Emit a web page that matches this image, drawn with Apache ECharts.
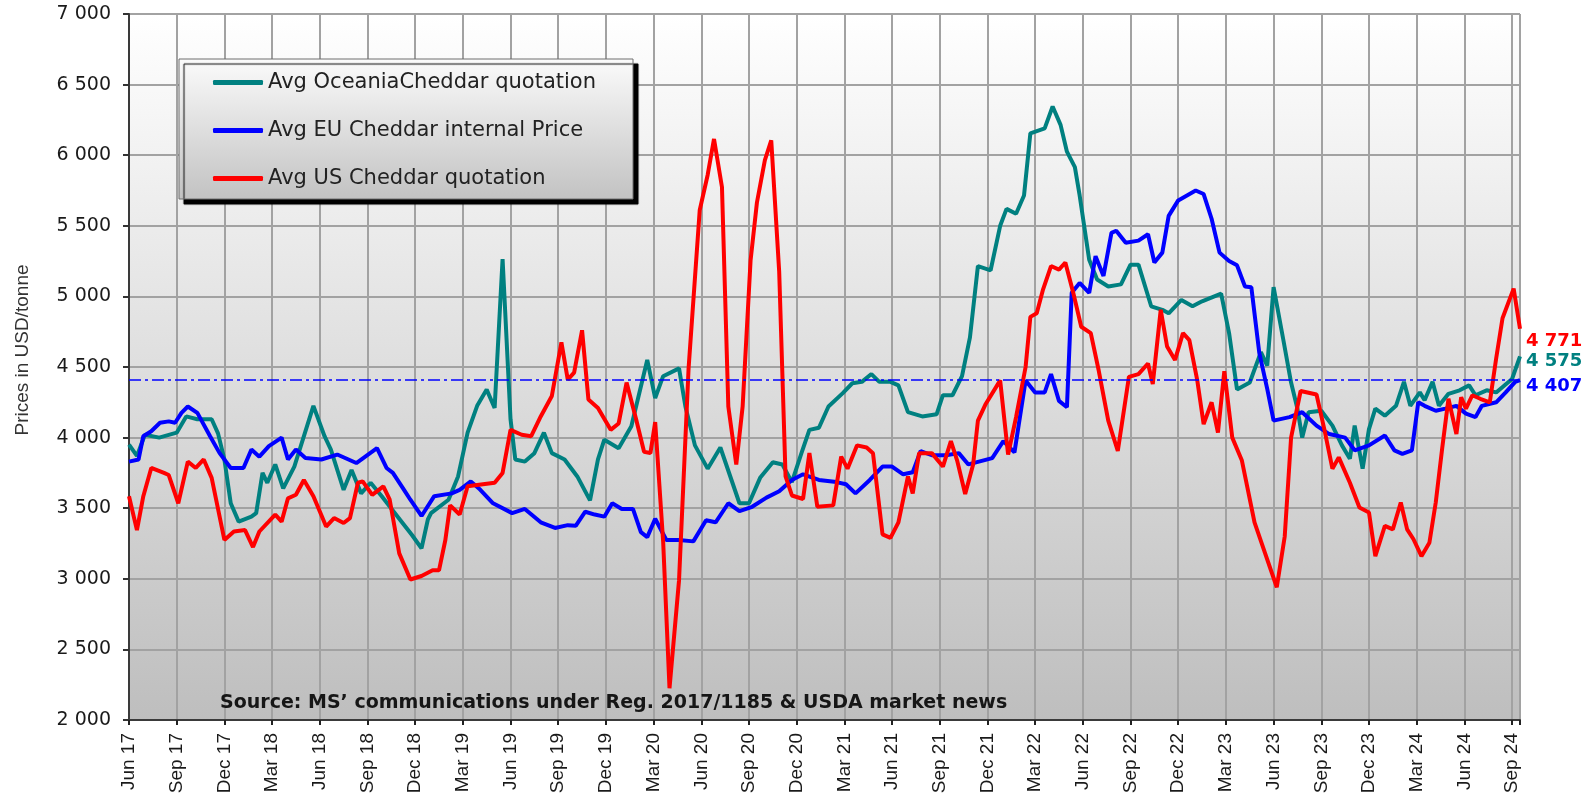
<!doctype html>
<html lang="en">
<head>
    <meta charset="utf-8" />
    <title>Cheddar prices</title>
    <script type="text/javascript" src="https://cdn.jsdelivr.net/npm/echarts@6.0.0/dist/echarts.min.js"></script>
    <style>
        html, body { margin: 0; padding: 0; background: #fff; }
        #chart { width: 1595px; height: 798px; }
    </style>
</head>
<body>
    <div id="chart"></div>
</body>
<script type="text/javascript">
    // x values are months counted from Jun 2017
    let quarter_labels = ['Jun 17', 'Sep 17', 'Dec 17', 'Mar 18', 'Jun 18', 'Sep 18', 'Dec 18', 'Mar 19', 'Jun 19', 'Sep 19',
        'Dec 19', 'Mar 20', 'Jun 20', 'Sep 20', 'Dec 20', 'Mar 21', 'Jun 21', 'Sep 21', 'Dec 21', 'Mar 22',
        'Jun 22', 'Sep 22', 'Dec 22', 'Mar 23', 'Jun 23', 'Sep 23', 'Dec 23', 'Mar 24', 'Jun 24', 'Sep 24'];

    let oceania = [[0, 3950], [0.5, 3870], [1, 4020], [1.9, 4000], [3, 4035], [3.6, 4150], [4.3, 4130], [5.2, 4130], [5.6, 4030], [6, 3845],
        [6.4, 3535], [6.9, 3405], [7.7, 3440], [8, 3465], [8.4, 3750], [8.7, 3680], [9.2, 3810], [9.7, 3640], [10.4, 3795], [11.6, 4225],
        [12.3, 4010], [12.7, 3915], [13.5, 3630], [14, 3770], [14.6, 3605], [15.2, 3680], [15.9, 3585], [16.9, 3440], [17.8, 3310], [18.4, 3215],
        [18.8, 3420], [19, 3465], [20.1, 3560], [20.7, 3725], [21.3, 4035], [21.9, 4225], [22.5, 4340], [23, 4210], [23.5, 5265], [24, 4130],
        [24.3, 3845], [24.9, 3830], [25.5, 3890], [26.1, 4035], [26.6, 3890], [27.4, 3845], [28.2, 3725], [29, 3555], [29.5, 3845], [29.9, 3985],
        [30.8, 3925], [31.6, 4080], [32.6, 4550], [33.1, 4280], [33.6, 4435], [34.6, 4490], [35, 4220], [35.6, 3945], [36.4, 3780], [37.2, 3930],
        [38.4, 3535], [39, 3535], [39.7, 3715], [40.5, 3825], [41.1, 3810], [41.7, 3685], [42.3, 3890], [42.8, 4055], [43.4, 4070], [44, 4220],
        [44.9, 4315], [45.5, 4385], [46.1, 4395], [46.7, 4450], [47.2, 4395], [47.9, 4395], [48.4, 4370], [49, 4180], [49.9, 4150], [50.8, 4165],
        [51.2, 4300], [51.8, 4300], [52.4, 4435], [52.9, 4710], [53.4, 5215], [54.2, 5185], [54.8, 5500], [55.2, 5620], [55.8, 5585], [56.3, 5715],
        [56.7, 6155], [57.6, 6190], [58.1, 6345], [58.6, 6215], [59, 6025], [59.5, 5915], [59.8, 5715], [60.4, 5260], [60.9, 5120], [61.6, 5070],
        [62.4, 5085], [63, 5225], [63.5, 5225], [64.3, 4930], [65, 4905], [65.4, 4880], [66.2, 4975], [66.9, 4930], [67.5, 4965], [68.7, 5020],
        [69.2, 4740], [69.7, 4340], [70.5, 4390], [71.2, 4605], [71.6, 4510], [72, 5065], [72.6, 4700], [73.1, 4390], [73.5, 4205], [73.8, 4000],
        [74.2, 4180], [75, 4190], [75.7, 4085], [76.3, 3945], [76.8, 3850], [77.1, 4085], [77.6, 3780], [78, 4060], [78.4, 4205], [79, 4155],
        [79.7, 4225], [80.2, 4395], [80.6, 4225], [81.2, 4320], [81.5, 4265], [82, 4395], [82.4, 4225], [83, 4310], [83.7, 4335], [84.3, 4370],
        [84.7, 4300], [85.4, 4335], [86, 4320], [87, 4415], [87.5, 4575]];

    let eu = [[0, 3830], [0.6, 3845], [0.9, 4010], [1.4, 4045], [1.95, 4105], [2.5, 4115], [2.9, 4105], [3.3, 4175], [3.7, 4220], [4.3, 4175],
        [5.1, 4010], [5.7, 3890], [6.4, 3785], [7.2, 3785], [7.7, 3915], [8.2, 3865], [8.8, 3940], [9.6, 4000], [10, 3845], [10.5, 3915],
        [11.1, 3855], [12.1, 3845], [13.1, 3880], [14.3, 3820], [15.6, 3925], [16.2, 3785], [16.6, 3750], [17.3, 3630], [17.7, 3560], [18.4, 3445],
        [19.2, 3585], [20.3, 3605], [20.8, 3630], [21.5, 3690], [22.1, 3630], [22.9, 3535], [24.1, 3465], [24.9, 3495], [25.9, 3400], [26.8, 3360],
        [27.6, 3380], [28.1, 3375], [28.7, 3475], [29.3, 3455], [29.9, 3440], [30.4, 3535], [31, 3495], [31.7, 3495], [32.2, 3330], [32.6, 3295],
        [33.1, 3425], [33.8, 3275], [34.6, 3275], [35.5, 3265], [36.3, 3415], [36.9, 3400], [37.7, 3535], [38.4, 3480], [39.2, 3510], [40.1, 3575],
        [40.9, 3620], [41.7, 3700], [42.4, 3740], [43.4, 3700], [44.5, 3685], [45.1, 3670], [45.7, 3605], [46.6, 3700], [47.4, 3795], [48, 3795],
        [48.7, 3740], [49.3, 3755], [49.8, 3905], [50.5, 3875], [51.4, 3875], [52.2, 3890], [52.8, 3810], [54.3, 3855], [55, 3975], [55.7, 3895],
        [56.4, 4405], [57, 4320], [57.6, 4320], [58, 4450], [58.5, 4260], [59, 4215], [59.3, 5025], [59.8, 5095], [60.4, 5025], [60.8, 5285],
        [61.3, 5145], [61.8, 5450], [62.1, 5465], [62.7, 5380], [63.5, 5395], [64.1, 5440], [64.5, 5240], [65, 5310], [65.4, 5570], [66, 5680],
        [67.1, 5750], [67.6, 5725], [68.1, 5550], [68.6, 5310], [69.2, 5250], [69.7, 5220], [70.2, 5070], [70.6, 5065], [71.1, 4600], [71.6, 4345],
        [72, 4120], [73, 4145], [73.8, 4180], [74.7, 4085], [75.5, 4025], [76.5, 4000], [77.1, 3910], [78, 3945], [79, 4015], [79.6, 3910],
        [80.1, 3885], [80.7, 3910], [81.1, 4250], [81.5, 4225], [82.2, 4190], [82.8, 4205], [83.5, 4225], [84.1, 4170], [84.7, 4145], [85.1, 4225],
        [86, 4250], [86.6, 4320], [87.2, 4395], [87.5, 4407]];

    let us = [[0, 3585], [0.5, 3345], [0.9, 3585], [1.4, 3785], [2.2, 3750], [2.5, 3735], [3.1, 3535], [3.7, 3830], [4.2, 3785], [4.7, 3845],
        [5.2, 3715], [6, 3275], [6.6, 3335], [7.3, 3345], [7.8, 3225], [8.2, 3335], [9.2, 3455], [9.6, 3405], [10, 3570], [10.5, 3595],
        [11, 3700], [11.6, 3585], [12.4, 3370], [12.9, 3430], [13.5, 3395], [13.9, 3430], [14.4, 3680], [14.7, 3690], [15.3, 3595], [16, 3655],
        [16.4, 3560], [17, 3180], [17.7, 2995], [18.4, 3020], [19.1, 3060], [19.5, 3060], [19.9, 3275], [20.2, 3520], [20.8, 3455], [21.3, 3655],
        [21.9, 3665], [23, 3680], [23.5, 3750], [24, 4055], [24.7, 4020], [25.3, 4010], [25.9, 4150], [26.6, 4295], [27.2, 4675], [27.6, 4410],
        [28, 4460], [28.5, 4760], [28.9, 4270], [29.5, 4210], [30.3, 4055], [30.8, 4100], [31.3, 4390], [31.9, 4130], [32.4, 3900], [32.8, 3890],
        [33.1, 4110], [33.6, 3265], [34, 2225], [34.6, 2990], [35.2, 4490], [35.9, 5610], [36.4, 5860], [36.8, 6115], [37.3, 5775], [37.7, 4220],
        [38.2, 3810], [38.6, 4220], [39.1, 5255], [39.5, 5665], [40, 5965], [40.4, 6105], [40.9, 5175], [41.3, 3725], [41.7, 3590], [42.4, 3565],
        [42.8, 3890], [43.3, 3510], [44.3, 3520], [44.8, 3865], [45.2, 3780], [45.8, 3945], [46.4, 3930], [46.8, 3890], [47.4, 3315], [47.9, 3290],
        [48.4, 3400], [49, 3725], [49.3, 3605], [49.7, 3890], [50.5, 3890], [51.2, 3795], [51.7, 3975], [52.1, 3835], [52.6, 3600], [53.1, 3810],
        [53.4, 4120], [53.9, 4240], [54.8, 4405], [55.3, 3880], [55.8, 4145], [56.4, 4500], [56.7, 4855], [57.1, 4880], [57.5, 5050], [58, 5215],
        [58.5, 5190], [58.9, 5240], [59.4, 5025], [59.9, 4785], [60.5, 4740], [61, 4475], [61.6, 4120], [62.2, 3905], [62.9, 4430], [63.5, 4450],
        [64.1, 4525], [64.4, 4380], [64.9, 4905], [65.3, 4645], [65.8, 4550], [66.3, 4740], [66.7, 4690], [67.2, 4405], [67.6, 4095], [68.1, 4250],
        [68.5, 4035], [68.9, 4470], [69.4, 4000], [70, 3840], [70.8, 3400], [71.5, 3170], [72.2, 2940], [72.7, 3300], [73.1, 4000], [73.7, 4330],
        [74.7, 4305], [75.2, 4055], [75.7, 3780], [76.1, 3860], [76.8, 3680], [77.4, 3505], [78, 3470], [78.4, 3160], [79, 3375], [79.5, 3350],
        [80, 3540], [80.4, 3350], [80.8, 3280], [81.3, 3160], [81.8, 3255], [82.2, 3540], [82.6, 3920], [83, 4275], [83.5, 4025], [83.8, 4285],
        [84.1, 4205], [84.5, 4300], [85, 4275], [85.6, 4250], [86, 4560], [86.4, 4845], [87.1, 5055], [87.5, 4771]];

    let eu_latest = 4407;

    // "4 407" style numbers
    let fmt = function (n) {
        let s = Math.round(n).toString();
        return s.length > 3 ? s.slice(0, -3) + ' ' + s.slice(-3) : s;
    };

    let make_series = function (name, data, color, label_dy) {
        return {
            name: name,
            type: 'line',
            data: data,
            symbol: 'none',
            smooth: false,
            lineStyle: { color: color, width: 4 },
            itemStyle: { color: color },
            endLabel: {
                show: true,
                formatter: p => fmt(p.value[1]),
                color: color,
                fontFamily: 'DejaVu Sans',
                fontWeight: 'bold',
                fontSize: 18,
                distance: 6,
                offset: [0, label_dy]
            }
        };
    };

    let grey_fill = function (top, bottom) {
        return {
            type: 'linear', x: 0, y: 0, x2: 0, y2: 1,
            colorStops: [{ offset: 0, color: top }, { offset: 1, color: bottom }]
        };
    };

    let series = [
        make_series('Avg OceaniaCheddar quotation', oceania, '#008080', 5),
        make_series('Avg EU Cheddar internal Price', eu, '#0000ff', 6),
        make_series('Avg US Cheddar quotation', us, '#ff0000', 13)
    ];

    series[1].markLine = {
        silent: true,
        symbol: ['none', 'none'],
        label: { show: false },
        lineStyle: { color: '#0000ff', width: 1.5, type: [12, 4, 3, 4] },
        data: [{ yAxis: eu_latest }]
    };

    let option = {
        animation: false,
        backgroundColor: '#ffffff',
        grid: {
            left: 129, right: 75, top: 14, bottom: 78,
            show: true,
            borderWidth: 0,
            backgroundColor: grey_fill('#ffffff', '#bebebe'),
            outerBoundsMode: 'none'
        },
        legend: {
            orient: 'vertical',
            left: 213,
            top: 72,
            padding: 0,
            z: 20,
            icon: 'roundRect',
            itemWidth: 50,
            itemHeight: 5,
            itemGap: 27,
            selectedMode: false,
            textStyle: { fontFamily: 'DejaVu Sans', fontSize: 21, color: '#222' }
        },
        xAxis: {
            type: 'value',
            min: 0,
            max: 87.5,
            interval: 3,
            axisLine: { show: true, onZero: false, lineStyle: { color: '#3a3a3a', width: 2 } },
            axisTick: { show: true, length: 5, lineStyle: { color: '#222', width: 2 } },
            splitLine: { show: true, lineStyle: { color: '#a2a2a2', width: 2 } },
            axisLabel: {
                rotate: 90,
                margin: 13,
                fontFamily: 'Liberation Sans',
                fontSize: 19,
                color: '#1a1a1a',
                formatter: v => (v % 3 === 0 ? quarter_labels[v / 3] : '')
            }
        },
        yAxis: {
            type: 'value',
            min: 2000,
            max: 7000,
            interval: 500,
            axisLine: { show: true, lineStyle: { color: '#3a3a3a', width: 2 } },
            axisTick: { show: true, length: 6, lineStyle: { color: '#333', width: 2 } },
            splitLine: { show: true, lineStyle: { color: '#a2a2a2', width: 2 } },
            axisLabel: {
                margin: 18,
                fontFamily: 'DejaVu Sans',
                fontSize: 19,
                color: '#1a1a1a',
                formatter: fmt
            }
        },
        graphic: {
            elements: [
                {
                    type: 'rect',
                    z: 10,
                    shape: { x: 179, y: 59, width: 454, height: 140 },
                    style: {
                        fill: grey_fill('#fbfbfb', '#c2c2c2'),
                        stroke: '#6f6f6f',
                        lineWidth: 1,
                        shadowColor: '#000',
                        shadowOffsetX: 5,
                        shadowOffsetY: 5,
                        shadowBlur: 1
                    }
                },
                {
                    type: 'text',
                    z: 10,
                    x: 220,
                    y: 703,
                    style: {
                        text: 'Source: MS\u2019 communications under Reg. 2017/1185 & USDA market news',
                        fontFamily: 'DejaVu Sans',
                        fontWeight: 'bold',
                        fontSize: 19,
                        fill: '#161616',
                        verticalAlign: 'middle'
                    }
                },
                {
                    type: 'text',
                    z: 10,
                    x: 23,
                    y: 350,
                    rotation: Math.PI / 2,
                    style: {
                        text: 'Prices in USD/tonne',
                        fontFamily: 'Liberation Sans',
                        fontSize: 19,
                        fill: '#333',
                        align: 'center',
                        verticalAlign: 'middle'
                    }
                }
            ]
        },
        series: series
    };

    let myChart = echarts.init(document.getElementById('chart'));
    myChart.setOption(option);
</script>
</html>
